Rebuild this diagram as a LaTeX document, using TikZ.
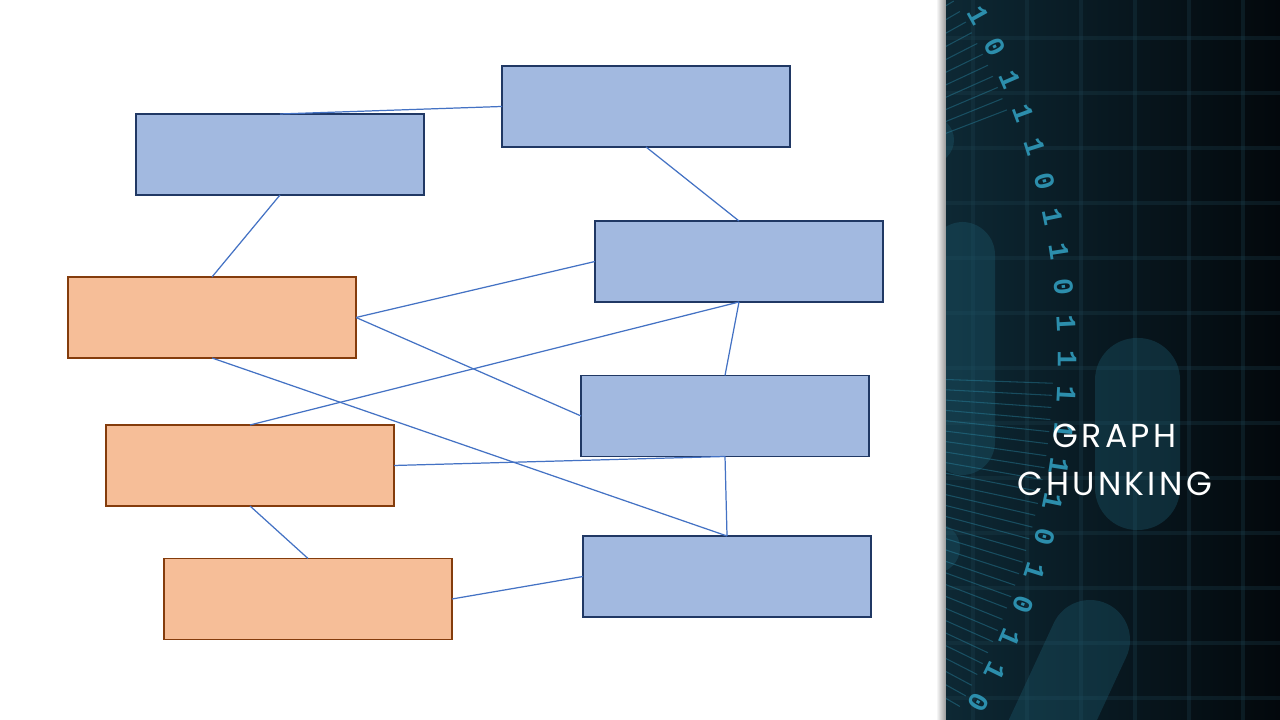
\documentclass[tikz,border=0pt]{standalone}
\usepackage{fontspec}
\usepackage{tikz}
\usetikzlibrary{calc}
\newfontfamily\titlefont[LetterSpace=10]{Poppins}
\newfontfamily\bitfont{Liberation Mono}
\definecolor{gcedge}{RGB}{68,114,196}
\definecolor{gcblue}{RGB}{162,185,224}
\definecolor{gcblueln}{RGB}{32,56,100}
\definecolor{gcorg}{RGB}{246,190,152}
\definecolor{gcorgln}{RGB}{132,60,12}
\definecolor{gcpanel}{RGB}{13,40,52}
\definecolor{gcdark}{RGB}{3,8,12}
\definecolor{gcteal}{RGB}{44,142,172}
\definecolor{gcblob}{RGB}{30,92,112}
\definecolor{gcmesh}{RGB}{30,66,80}
\tikzset{
  gcbox/.style={
    draw, line width=0.45pt, inner sep=0pt, outer sep=0pt,
    minimum width=28.8mm, minimum height=8.1mm
  },
  blu/.style={gcbox, fill=gcblue, draw=gcblueln},
  org/.style={gcbox, fill=gcorg, draw=gcorgln},
  conn/.style={draw=gcedge, line width=0.35pt},
  bit/.style={font=\bitfont\bfseries\fontsize{8}{8}\selectfont, text=gcteal, inner sep=0pt},
  blob/.style={fill=gcblob, opacity=0.36},
  fan/.style={draw=gcteal, line width=0.3pt, opacity=0.4},
  mesh/.style={draw=gcmesh, line width=1pt, opacity=0.3},
  titletxt/.style={font=\titlefont\fontsize{9.45}{13.7}\selectfont, text=white, align=center}
}

\begin{document}
\begin{tikzpicture}[x=1cm,y=1cm]
  \useasboundingbox (0,0) rectangle (12.8,7.2);
  \fill[white] (0,0) rectangle (12.8,7.2);

  % side panel
  \shade[left color=white, right color=black!40] (9.36,0) rectangle (9.46,7.2);
  \begin{scope}
    \clip (9.46,0) rectangle (12.8,7.2);
    \shade[left color=gcpanel, right color=gcdark] (9.46,0) rectangle (12.8,7.2);
    \foreach \k in {0,...,5}
      \draw[mesh] ({9.73+0.54*\k},0) -- ++(0,7.2);
    \foreach \k in {0,...,12}
      \draw[mesh] (9.46,{6.82-0.55*\k}) -- ++(3.34,0);
    \fill[blob, rounded corners=3.3mm] (9.30,2.45) rectangle (9.95,4.98);
    \fill[blob, rounded corners=4.2mm] (10.95,1.90) rectangle (11.80,3.82);
    \fill[blob] (9.30,5.80) circle (0.24);
    \fill[blob] (9.35,1.72) circle (0.25);
    \draw[draw=gcblob, opacity=0.36, line width=8mm, line cap=round] (10.90,0.80) -- (10.25,-0.6);
    \coordinate (arcc) at (3.58,3.61);
    \foreach \a in {21,...,31}
      \draw[fan] ($(arcc)+(\a:5.8)$) -- ($(arcc)+(\a:6.95)$);
    \foreach \a in {-30,...,-2}
      \draw[fan] ($(arcc)+(\a:5.8)$) -- ($(arcc)+(\a:6.95)$);
    \foreach \d [count=\i] in {1,0,1,1,1,0,1,1,0,1,1,1,1,1,1,0,1,0,1,1,0} {
      \pgfmathsetmacro{\ba}{31.9-2.9*\i}
      \node[bit, rotate=\ba-90] (bit\i) at ($(arcc)+(\ba:7.09)$) {\d};
    }
  \end{scope}
  \node[titletxt] (title) at (11.145,2.60) {GRAPH\\CHUNKING};

  % chunks
  \node[blu] (ba) at (2.80,5.655) {};
  \node[blu] (bb) at (6.46,6.135) {};
  \node[blu] (bc) at (7.39,4.585) {};
  \node[blu] (bd) at (7.25,3.04) {};
  \node[blu] (be) at (7.27,1.435) {};
  \node[org] (oa) at (2.12,4.025) {};
  \node[org] (ob) at (2.50,2.545) {};
  \node[org] (oc) at (3.08,1.21) {};

  \draw[conn] (ba.north) -- (bb.west);
  \draw[conn] (bb.south) -- (bc.north);
  \draw[conn] (ba.south) -- (oa.north);
  \draw[conn] (oa.east) -- (bc.west);
  \draw[conn] (oa.east) -- (bd.west);
  \draw[conn] (oa.south) -- (be.north);
  \draw[conn] (ob.north) -- (bc.south);
  \draw[conn] (bc.south) -- (bd.north);
  \draw[conn] (ob.east) -- (bd.south);
  \draw[conn] (bd.south) -- (be.north);
  \draw[conn] (ob.south) -- (oc.north);
  \draw[conn] (oc.east) -- (be.west);
\end{tikzpicture}
\end{document}
